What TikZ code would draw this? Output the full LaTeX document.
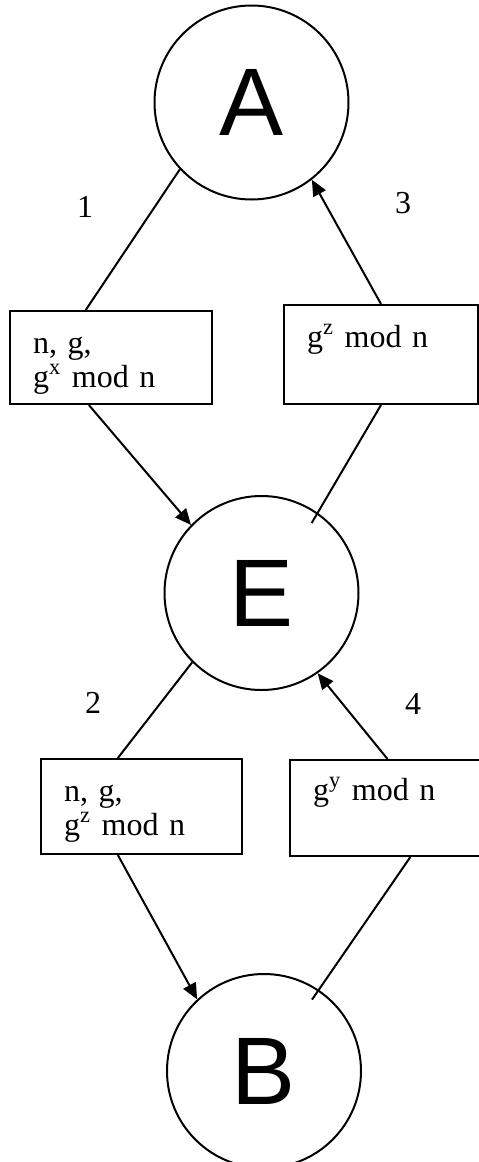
\documentclass[tikz,border=0pt]{standalone}
\usepackage{fontspec}
\setmainfont{Liberation Serif}
\newfontfamily\letterfont{Liberation Sans}
\usetikzlibrary{arrows.meta}

\begin{document}
\begin{tikzpicture}[x=0.5pt,y=-0.5pt,
    party/.style={circle,draw,line width=1pt,minimum size=97pt,inner sep=0pt,
      font=\letterfont\fontsize{48}{48}\selectfont},
    msgbox/.style={draw,line width=1pt,anchor=north west,align=left,
      inner xsep=11.5pt,inner ysep=0pt,text height=21pt,font=\fontsize{16}{17}\selectfont},
    stepno/.style={font=\fontsize{16}{17}\selectfont},
    flow/.style={line width=1pt},
    send/.style={flow,-{Triangle[length=8pt,width=7pt]}}]
    \useasboundingbox (0,0) rectangle (478,1162);

    % the three parties
    \node[party] (A) at (251.5,102.5) {A};
    \node[party] (E) at (261.5,593) {E};
    \node[party] (B) at (264,1071) {B};

    % messages
    \node[msgbox,text width=78pt,text depth=25.5pt] (boxone) at (9,310)
      {n, g,\\g\textsuperscript{x} mod n};
    \node[msgbox,text width=74pt,text depth=28.5pt] (boxthree) at (283,304)
      {g\textsuperscript{z} mod n};
    \node[msgbox,text width=77.5pt,text depth=26.5pt] (boxtwo) at (40,758)
      {n, g,\\g\textsuperscript{z} mod n};
    \node[msgbox,text width=74.5pt,text height=20pt,text depth=28pt] (boxfour) at (289,759)
      {g\textsuperscript{y} mod n};

    % step numbers
    \node[stepno] (one) at (85,207) {1};
    \node[stepno] (three) at (403,203) {3};
    \node[stepno] (two) at (93,703) {2};
    \node[stepno] (four) at (413,704) {4};

    % connectors
    \draw[flow] (A.223) -- (boxone.118);
    \draw[send] (boxone.245) -- (E.136);
    \draw[flow,shorten >=-6pt] (boxthree.south) -- (E.55);
    \draw[send] (boxthree.north) -- (A.308);
    \draw[flow] (E.225) -- (boxtwo.116);
    \draw[send] (boxtwo.244) -- (B.133);
    \draw[flow,shorten >=-6pt] (boxfour.295) -- (B.56);
    \draw[send] (boxfour.north) -- (E.305);
\end{tikzpicture}
\end{document}
